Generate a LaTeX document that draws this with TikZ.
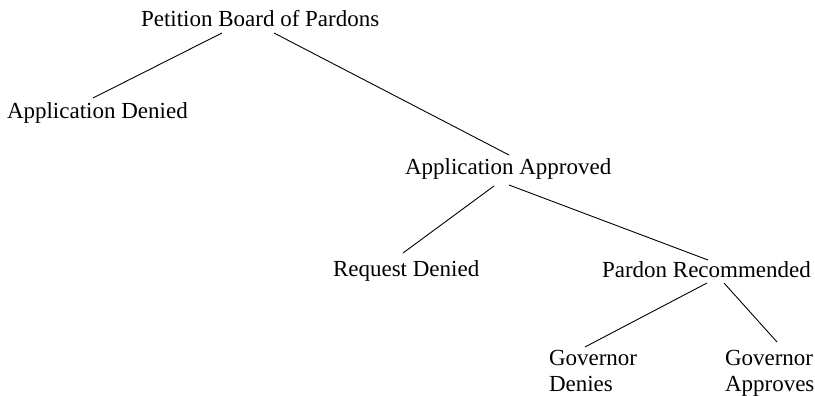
\documentclass[tikz,border=0pt]{standalone}
\usepackage{fontspec}
\setmainfont{Liberation Serif}
\usetikzlibrary{calc}
\tikzset{
  lbl/.style={anchor=base west, inner sep=0pt, outer sep=0pt, font=\fontsize{23}{26}\selectfont, align=left},
  edge/.style={draw=black, line width=0.9pt}
}
\begin{document}
\begin{tikzpicture}[x=1pt,y=-1pt]
\useasboundingbox (0,0) rectangle (815,396);
\node[lbl] (pet) at (141,27) {Petition Board of Pardons};
\node[lbl] (ad) at (7,119) {Application Denied};
\node[lbl] (aa) at (405,175) {Application Approved};
\node[lbl] (rd) at (333,276) {Request Denied};
\node[lbl] (pr) at (602,277) {Pardon Recommended};
\node[lbl] (gd) at (549,391) {Governor\\Denies};
\node[lbl] (ga) at (725,391) {Governor\\Approves};
\draw[edge] ($(pet.base west)+(81,6)$) -- ($(ad.base west)+(86,-21)$);
\draw[edge] ($(pet.base west)+(133,6)$) -- ($(aa.base west)+(104,-20)$);
\draw[edge] ($(aa.base west)+(89,11)$) -- ($(rd.base west)+(70,-23)$);
\draw[edge] ($(aa.base west)+(104,10)$) -- ($(pr.base west)+(106,-17)$);
\draw[edge] ($(pr.base west)+(105,6)$) -- ($(gd.base west)+(36,-44)$);
\draw[edge] ($(pr.base west)+(122,6)$) -- ($(ga.base west)+(52,-49)$);
\end{tikzpicture}
\end{document}
